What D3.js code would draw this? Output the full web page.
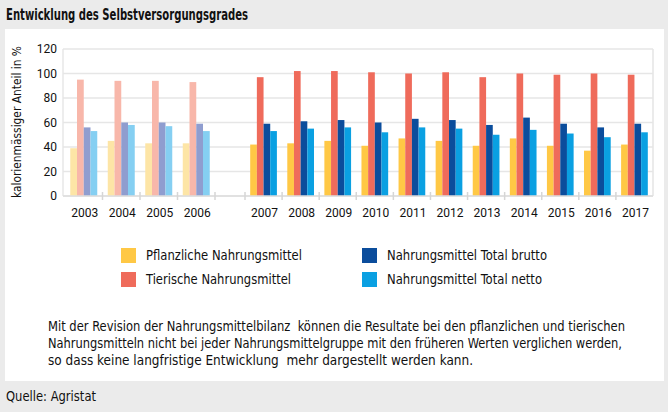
<!DOCTYPE html>
<html><head><meta charset="utf-8">
<script src="https://cdn.jsdelivr.net/npm/d3@7"></script>
<style>body{margin:0;background:#ebebeb;}svg{display:block;}</style>
</head><body>
<svg id="chart" width="668" height="412"></svg>
<script>
const yearsOld = ["2003","2004","2005","2006"];
const yearsNew = ["2007","2008","2009","2010","2011","2012","2013","2014","2015","2016","2017"];
const seriesNames = ["Pflanzliche Nahrungsmittel","Tierische Nahrungsmittel","Nahrungsmittel Total brutto","Nahrungsmittel Total netto"];
const pflanzlich = [39,45,43,43, 42,43,45,41,47,45,41,47,41,37,42];
const tierisch   = [95,94,94,93, 97,102,102,101,100,101,97,100,99,100,99];
const brutto     = [56,60,60,59, 59,61,62,60,63,62,58,64,59,56,59];
const netto      = [53,58,57,53, 53,55,56,52,56,55,50,54,51,48,52];
const yTicks = [0,20,40,60,80,100,120];
const colors = ["#ffc845","#ef6b5b","#0b4d9c","#0aa0e2"];
const fadedColors = ["#fde5a6","#f8b7aa","#8f9dcf","#85cff2"];
const title = "Entwicklung des Selbstversorgungsgrades";
const yTitle = "kalorienmässiger Anteil in %";
const noteLines = [
  "Mit der Revision der Nahrungsmittelbilanz  können die Resultate bei den pflanzlichen und tierischen",
  "Nahrungsmitteln nicht bei jeder Nahrungsmittelgruppe mit den früheren Werten verglichen werden,",
  "so dass keine langfristige Entwicklung  mehr dargestellt werden kann."
];
const source = "Quelle: Agristat";

const svg = d3.select("#chart");
const FONT = "'Liberation Sans Narrow', 'DejaVu Sans Condensed', Roboto, sans-serif";
const NUMFONT = "Roboto, 'Liberation Sans', sans-serif";
const TXT = "#111111";

function fit(sel, w){ sel.attr("textLength", w).attr("lengthAdjust","spacingAndGlyphs"); return sel; }

// background
svg.append("rect").attr("width",668).attr("height",412).attr("fill","#ebebeb");
svg.append("rect").attr("x",5).attr("y",29).attr("width",659).attr("height",352).attr("fill","#ffffff");

// title
fit(svg.append("text").attr("x",6).attr("y",19.5).attr("font-family",FONT).attr("font-size",16)
  .attr("font-weight","bold").attr("fill",TXT).text(title), 242);

// scales
const y = d3.scaleLinear().domain([0,120]).range([196,49]);
const xOld = d3.scaleBand().domain(yearsOld).range([65,215]);
const xNew = d3.scaleBand().domain(yearsNew).range([245,653]);
const allYears = yearsOld.concat(yearsNew);
const xBand = yr => yearsOld.includes(yr) ? xOld : xNew;
const series = [pflanzlich, tierisch, brutto, netto];

// plot frame and grid
const plotL = 63, plotR = 653;
svg.append("g").selectAll("line").data(yTicks).join("line")
  .attr("x1",plotL).attr("x2",plotR).attr("y1",d=>y(d)).attr("y2",d=>y(d))
  .attr("stroke","#e6e6e6").attr("stroke-width",1.6);
svg.append("line").attr("x1",plotL).attr("x2",plotL).attr("y1",y(120)).attr("y2",y(0))
  .attr("stroke","#e6e6e6").attr("stroke-width",1.4);
svg.append("line").attr("x1",plotR).attr("x2",plotR).attr("y1",y(120)).attr("y2",y(0))
  .attr("stroke","#e6e6e6").attr("stroke-width",1.6);

// y labels
svg.append("g").selectAll("text").data(yTicks).join("text")
  .attr("x",57).attr("y",d=>y(d)+4.3).attr("text-anchor","end")
  .attr("font-family",NUMFONT).attr("font-size",12).attr("fill",TXT).text(d=>d);

// y title
fit(svg.append("text").attr("transform","translate(21,122) rotate(-90)").attr("text-anchor","middle")
  .attr("font-family",FONT).attr("font-size",12.5).attr("fill",TXT).text(yTitle), 152);

// bars
const groupFrac = 0.72;
const barsG = svg.append("g");
allYears.forEach((yr, i) => {
  const sc = xBand(yr);
  const bw = sc.bandwidth();
  const gw = bw * groupFrac;
  const x0 = sc(yr) + (bw - gw) / 2;
  const inner = d3.scaleBand().domain(d3.range(4)).range([x0, x0 + gw]);
  const old = yearsOld.includes(yr);
  series.forEach((s, k) => {
    barsG.append("rect").attr("x", inner(k)).attr("width", inner.bandwidth())
      .attr("y", y(s[i])).attr("height", y(0) - y(s[i]))
      .attr("fill", old ? fadedColors[k] : colors[k]);
  });
});

// x axis line & ticks
svg.append("line").attr("x1",plotL).attr("x2",plotR).attr("y1",y(0)).attr("y2",y(0))
  .attr("stroke","#dedede").attr("stroke-width",1.6);
const tickXs = yearsOld.slice(1).map(d=>xOld(d)).concat([xOld.range()[1], xNew.range()[0]])
  .concat(yearsNew.slice(1).map(d=>xNew(d)));
svg.append("g").selectAll("line").data(tickXs).join("line")
  .attr("x1",d=>d).attr("x2",d=>d).attr("y1",y(0)-4).attr("y2",y(0)+4)
  .attr("stroke","#d6d6d6").attr("stroke-width",1.5);

// x labels
svg.append("g").selectAll("text").data(allYears).join("text")
  .attr("x",d=>xBand(d)(d)+xBand(d).bandwidth()/2+1).attr("y",217).attr("text-anchor","middle")
  .attr("font-family",NUMFONT).attr("font-size",12).attr("fill",TXT).text(d=>d);

// legend
const legPos = [[121,248],[121,272],[362,248],[362,272]];
const legW = [156,145,160,155];
seriesNames.forEach((n,k)=>{
  const [lx,ly] = legPos[k];
  svg.append("rect").attr("x",lx).attr("y",ly).attr("width",15).attr("height",15).attr("fill",colors[k]);
  fit(svg.append("text").attr("x",lx+25).attr("y",ly+12).attr("font-family",FONT).attr("font-size",13.5)
    .attr("fill",TXT).text(n), legW[k]);
});

// note
const noteW = [577, 574, 425];
noteLines.forEach((t,i)=>{
  fit(svg.append("text").attr("x",48).attr("y",331+i*17).attr("font-family",FONT).attr("font-size",13.5)
    .attr("fill",TXT).attr("xml:space","preserve").style("white-space","pre").text(t), noteW[i]);
});

// source
fit(svg.append("text").attr("x",6).attr("y",401).attr("font-family",FONT).attr("font-size",14)
  .attr("fill",TXT).text(source), 90);
</script>
</body></html>
